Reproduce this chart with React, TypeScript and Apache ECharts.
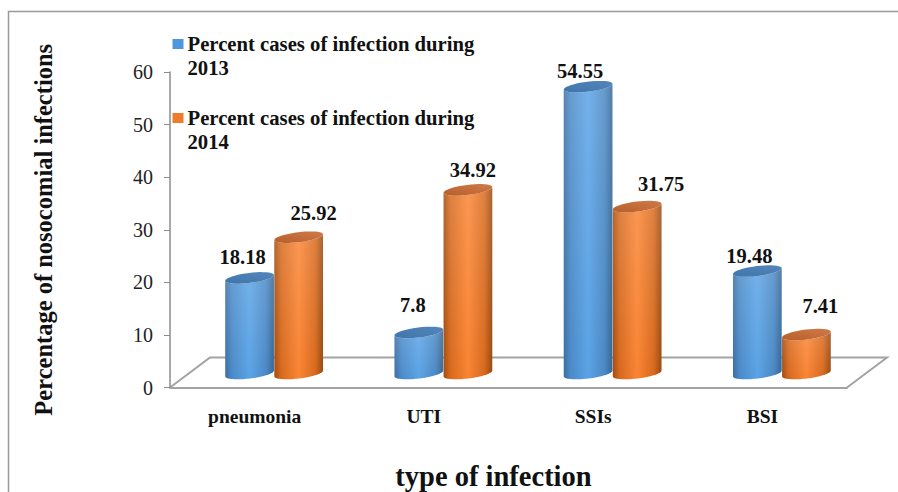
import React, { useEffect, useRef } from "react";
import * as echarts from "echarts";

const categories = ["pneumonia", "UTI", "SSIs", "BSI"];
const seriesNames = [
  "Percent cases of infection during 2013",
  "Percent cases of infection during 2014",
];
const values2013 = [18.18, 7.8, 54.55, 19.48];
const values2014 = [25.92, 34.92, 31.75, 7.41];
const yTicks = { min: 0, max: 60, interval: 10 };

// Hand-placed label nudges of the original: [dx, gap above the cap]
const labelNudge2013 = [[-7, 15], [-6, 22], [-8, 10], [-8, 9]];
const labelNudge2014 = [[15, 19], [5, 14], [24, 17], [14, 23]];

const SERIF = '"Liberation Serif", "Times New Roman", serif';
const DEPTH_X = 19.5;
const DEPTH_Y = -14;
const TILT = (-7 * Math.PI) / 180;
const MINOR = 5;

const PALETTE = {
  blue: {
    legend: "#4f97db",
    body: [
      [0, "#3a6ea3"],
      [0.14, "#4a8ac8"],
      [0.5, "#5aa3e6"],
      [0.84, "#4a88c4"],
      [1, "#336595"],
    ],
    cap: ["#3f75ab", "#5486bb"],
  },
  orange: {
    legend: "#ef7b2c",
    body: [
      [0, "#a14c10"],
      [0.14, "#d7691d"],
      [0.5, "#fa8433"],
      [0.84, "#d8691c"],
      [1, "#984810"],
    ],
    cap: ["#b85f2a", "#cf7a4a"],
  },
};

function ellipsePoints(cx: number, cy: number, a: number, from: number, to: number) {
  const pts: number[][] = [];
  const n = 40;
  for (let i = 0; i <= n; i++) {
    const t = from + ((to - from) * i) / n;
    const ex = a * Math.cos(t);
    const ey = MINOR * Math.sin(t);
    pts.push([
      cx + ex * Math.cos(TILT) - ey * Math.sin(TILT),
      cy + ex * Math.sin(TILT) + ey * Math.cos(TILT),
    ]);
  }
  return pts;
}

function cylinderSeries(
  name: string,
  values: number[],
  colors: typeof PALETTE.blue,
  side: number,
  nudge: number[][]
) {
  return {
    type: "custom",
    name,
    coordinateSystem: "cartesian2d",
    itemStyle: { color: colors.legend },
    encode: { x: 0, y: 1 },
    data: values.map((v, i) => [i, v]),
    renderItem: (params: any, api: any) => {
      const idx = api.value(0);
      const val = api.value(1);
      const top = api.coord([idx, val]);
      const bottom = api.coord([idx, 0]);
      const band = api.size([1, 0])[0];
      const a = band * 0.145;
      const cx = top[0] + DEPTH_X + side * a;
      const topY = top[1] + DEPTH_Y;
      const baseY = bottom[1] + DEPTH_Y;
      const body = [
        ...ellipsePoints(cx, baseY, a, Math.PI, 0),
        ...ellipsePoints(cx, topY, a, 0, Math.PI),
      ];
      const cap = ellipsePoints(cx, topY, a, 0, Math.PI * 2);
      const capTop = topY - 5.6;
      return {
        type: "group",
        children: [
          {
            type: "polygon",
            shape: { points: body },
            style: {
              fill: new echarts.graphic.LinearGradient(
                0, 0, 1, 0,
                colors.body.map(([offset, color]) => ({ offset, color })) as any
              ),
            },
          },
          {
            type: "polygon",
            shape: { points: body },
            style: {
              fill: new echarts.graphic.LinearGradient(0, 0, 0, 1, [
                { offset: 0, color: "rgba(255,255,255,0.16)" },
                { offset: 1, color: "rgba(255,255,255,0)" },
              ]),
            },
          },
          {
            type: "polygon",
            shape: { points: cap },
            style: {
              fill: new echarts.graphic.LinearGradient(0, 1, 1, 0, [
                { offset: 0, color: colors.cap[0] },
                { offset: 1, color: colors.cap[1] },
              ]),
            },
          },
          {
            type: "text",
            style: {
              text: String(val),
              x: cx + nudge[idx][0],
              y: capTop - nudge[idx][1],
              align: "center",
              verticalAlign: "middle",
              fill: "#111",
              font: `bold 20.5px ${SERIF}`,
            },
          },
        ],
      };
    },
  };
}

export default function App() {
  const ref = useRef<HTMLDivElement>(null);

  useEffect(() => {
    const chart = echarts.init(ref.current!, undefined, { renderer: "svg" });
    const grey = "#a3a3a3";
    chart.setOption({
      animation: false,
      backgroundColor: "#fff",
      textStyle: { fontFamily: SERIF },
      grid: { left: 170, right: 51, top: 72, bottom: 104.5, outerBoundsMode: "none" },
      legend: {
        orient: "vertical",
        left: 172.5,
        top: 8,
        padding: 0,
        itemWidth: 11,
        itemHeight: 10,
        itemGap: 2,
        icon: "rect",
        selectedMode: false,
        data: seriesNames,
        formatter: (name: string) => "\n" + name.replace(/ (\d+)$/, "\n$1"),
        textStyle: {
          fontFamily: SERIF,
          fontWeight: "bold",
          fontSize: 20.7,
          lineHeight: 24,
          color: "#111",
          padding: [0, 0, 0, -1],
        },
      },
      xAxis: {
        type: "category",
        data: categories,
        name: "type of infection",
        nameLocation: "middle",
        nameGap: 74,
        nameTextStyle: {
          fontFamily: SERIF,
          fontWeight: "bold",
          fontSize: 28.5,
          color: "#111",
          padding: [0, 30, 0, 0],
        },
        axisTick: { show: false },
        axisLine: { lineStyle: { color: grey, width: 2 } },
        axisLabel: {
          margin: 19,
          fontFamily: SERIF,
          fontWeight: "bold",
          fontSize: 19.5,
          color: "#111",
        },
      },
      yAxis: {
        type: "value",
        min: yTicks.min,
        max: yTicks.max,
        interval: yTicks.interval,
        name: "Percentage of nosocomial infections",
        nameLocation: "middle",
        nameGap: 114,
        nameTextStyle: {
          fontFamily: SERIF,
          fontWeight: "bold",
          fontSize: 24.5,
          color: "#111",
        },
        splitLine: { show: false },
        axisLine: { show: true, lineStyle: { color: "#8c8c8c", width: 1.5 } },
        axisTick: { show: true, length: 6, lineStyle: { color: "#8c8c8c", width: 1 } },
        axisLabel: {
          margin: 17,
          fontFamily: SERIF,
          fontSize: 20,
          color: "#222",
          padding: [3, 0, 0, 0],
        },
      },
      graphic: [
        {
          type: "polyline",
          z: -1,
          silent: true,
          shape: { points: [[8.5, 492], [8.5, 11.5], [898, 11.5]] },
          style: { stroke: "#9a9a9a", lineWidth: 1.5, fill: "none" },
        },
        {
          type: "polyline",
          z: -1,
          silent: true,
          shape: { points: [[170, 387.5], [210, 357.5], [887, 357.5], [847, 387.5]] },
          style: { stroke: grey, lineWidth: 2, fill: "none" },
        },
      ],
      series: [
        cylinderSeries(seriesNames[0], values2013, PALETTE.blue, -1, labelNudge2013),
        cylinderSeries(seriesNames[1], values2014, PALETTE.orange, 1, labelNudge2014),
      ],
    });
    return () => chart.dispose();
  }, []);

  return (
    <div
      ref={ref}
      style={{ position: "absolute", left: 0, top: 0, width: 898, height: 492 }}
    />
  );
}
